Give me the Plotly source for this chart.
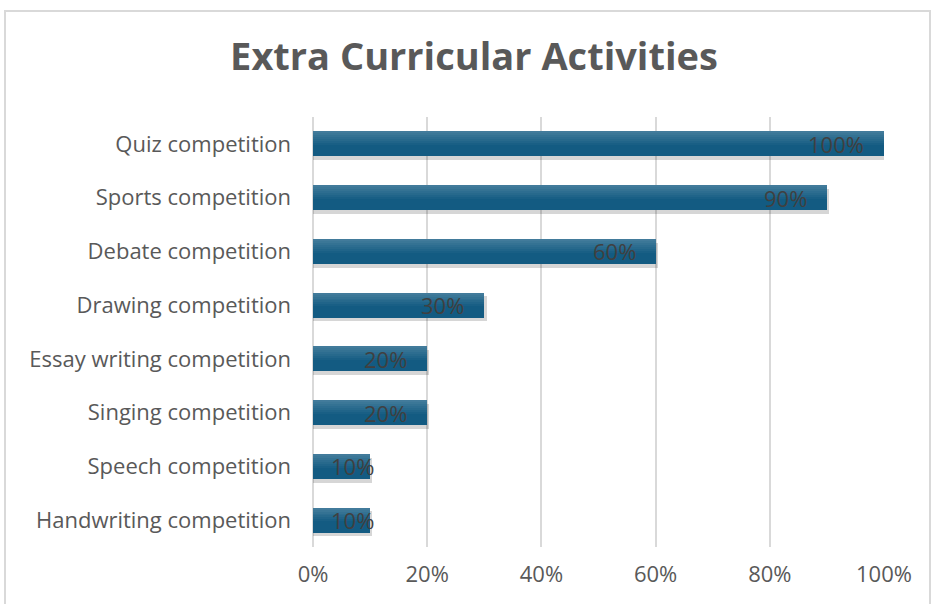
import plotly.graph_objects as go

categories = ["Quiz competition", "Sports competition", "Debate competition",
              "Drawing competition", "Essay writing competition", "Singing competition",
              "Speech competition", "Handwriting competition"]
values = [1.00, 0.90, 0.60, 0.30, 0.20, 0.20, 0.10, 0.10]
value_labels = ["100%", "90%", "60%", "30%", "20%", "20%", "10%", "10%"]
x_ticks = [0, 0.2, 0.4, 0.6, 0.8, 1.0]
x_tick_labels = ["0%", "20%", "40%", "60%", "80%", "100%"]

W, H = 931, 604
ML, MR, MT, MB = 313, 47, 117, 57
plot_w = W - ML - MR
plot_h = H - MT - MB
bar_w = 0.465
FONT = "Open Sans, Arial, sans-serif"

fig = go.Figure()

# shadow
fig.add_trace(go.Bar(
    y=categories, x=[v + 0.004 for v in values], orientation="h",
    width=bar_w, offset=-bar_w / 2 + 0.07,
    marker=dict(color="rgba(0,0,0,0.16)", line=dict(width=0)),
    hoverinfo="skip", showlegend=False))
# main bar
fig.add_trace(go.Bar(
    y=categories, x=values, orientation="h", width=bar_w,
    marker=dict(color="#135b82", line=dict(width=0)),
    showlegend=False))
# gradient highlight slices on upper part
n = 7
slice_h = bar_w * 0.55 / n
for i in range(n):
    alpha = 0.20 * (1 - i / n)
    fig.add_trace(go.Bar(
        y=categories, x=values, orientation="h", width=slice_h,
        offset=-bar_w / 2 + i * slice_h,
        marker=dict(color=f"rgba(255,255,255,{alpha:.3f})", line=dict(width=0)),
        hoverinfo="skip", showlegend=False))

annotations = []
for cat, v, lab in zip(categories, values, value_labels):
    text_w = 12.6 * (len(lab) - 1) + 18.5
    common = dict(y=cat, text=lab, showarrow=False,
                  font=dict(size=22, color="#404040", family=FONT))
    if v * plot_w - 18 - text_w < 16:
        annotations.append(dict(x=0, xanchor="left", xshift=16, **common))
    else:
        annotations.append(dict(x=v, xanchor="right", xshift=-18, **common))

# chart frame
def px_to_paper_x(px):
    return (px - ML) / plot_w

def px_to_paper_y(py):
    return (H - MB - py) / plot_h

shapes = [dict(type="rect", xref="paper", yref="paper",
               x0=px_to_paper_x(5), x1=px_to_paper_x(930),
               y0=px_to_paper_y(620), y1=px_to_paper_y(11),
               line=dict(color="#d9d9d9", width=2), fillcolor="rgba(0,0,0,0)", layer="below")]

fig.update_layout(
    width=W, height=H,
    margin=dict(l=ML, r=MR, t=MT, b=MB),
    paper_bgcolor="white", plot_bgcolor="white",
    barmode="overlay", bargap=0,
    title=dict(text="<b>Extra Curricular Activities</b>", x=(229 + 719) / 2 / W, xanchor="center",
               y=1 - 57 / H, yanchor="middle",
               font=dict(size=38, color="#595959", family=FONT)),
    annotations=annotations,
    shapes=shapes,
    font=dict(family=FONT, color="#595959"),
)
fig.update_xaxes(range=[0, 1.0], tickvals=x_ticks, ticktext=x_tick_labels,
                 showgrid=True, gridcolor="#d9d9d9", gridwidth=2,
                 zeroline=True, zerolinecolor="#d9d9d9", zerolinewidth=2,
                 showline=False, ticks="",
                 tickfont=dict(size=22, color="#595959"), ticklabelstandoff=12,
                 fixedrange=True)
fig.update_yaxes(autorange="reversed", showgrid=False, zeroline=False, showline=False,
                 ticks="", tickfont=dict(size=22, color="#595959"), ticklabelstandoff=21)

fig.write_html("out.html")
